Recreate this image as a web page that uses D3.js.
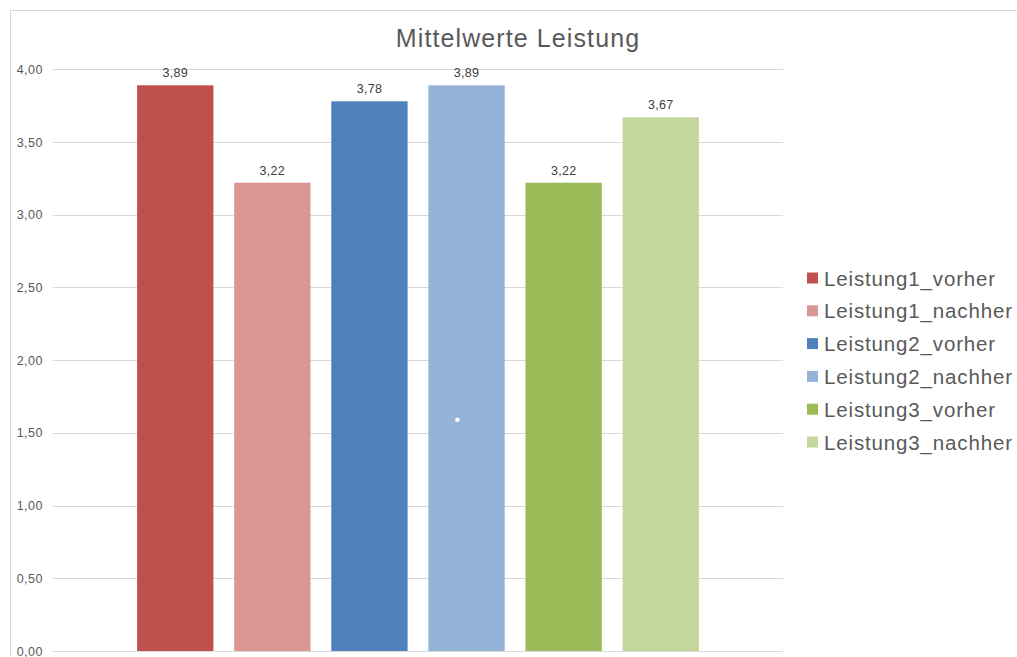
<!DOCTYPE html>
<html>
<head>
<meta charset="utf-8">
<script src="https://cdn.jsdelivr.net/npm/d3@7"></script>
<style>
  html, body { margin: 0; padding: 0; background: #ffffff; }
  svg { display: block; font-family: "Liberation Sans", Arial, sans-serif; }
</style>
</head>
<body>
<svg id="chart" width="1017" height="657"></svg>
<script>
// Mean performance per measurement, before and after
const seriesNames = [
  "Leistung1_vorher", "Leistung1_nachher",
  "Leistung2_vorher", "Leistung2_nachher",
  "Leistung3_vorher", "Leistung3_nachher"
];
const seriesValues = [3.89, 3.22, 3.78, 3.89, 3.22, 3.67];
const seriesColors = ["#C0504D", "#D99694", "#4F81BD", "#95B3D7", "#9BBB59", "#C3D69B"];
const yTicks = [0, 0.5, 1, 1.5, 2, 2.5, 3, 3.5, 4];
const chartTitle = "Mittelwerte Leistung";

const fmt = v => d3.format(".2f")(v).replace(".", ",");

const svg = d3.select("#chart");

// chart frame (left and top edges visible)
svg.append("line").attr("x1", 10.5).attr("x2", 10.5).attr("y1", 10).attr("y2", 657)
  .attr("stroke", "#d9d9d9").attr("stroke-width", 1);
svg.append("line").attr("x1", 10).attr("x2", 1017).attr("y1", 10.5).attr("y2", 10.5)
  .attr("stroke", "#d9d9d9").attr("stroke-width", 1);

const plot = { left: 53, right: 783, top: 69.3, bottom: 651 };

const x = d3.scaleBand()
  .domain(seriesNames)
  .range([plot.left, plot.right])
  .paddingInner(0.214)
  .paddingOuter(0.866);

const y = d3.scaleLinear()
  .domain([0, 4])
  .range([plot.bottom, plot.top]);

// gridlines
svg.append("g")
  .selectAll("line")
  .data(yTicks)
  .join("line")
  .attr("x1", plot.left).attr("x2", plot.right)
  .attr("y1", d => Math.round(y(d)) + 0.5).attr("y2", d => Math.round(y(d)) + 0.5)
  .attr("stroke", "#d9d9d9").attr("stroke-width", 1);

// y axis labels
const yAxis = d3.axisLeft(y).tickValues(yTicks).tickFormat(fmt).tickSize(0).tickPadding(10);
const yg = svg.append("g").attr("transform", `translate(${plot.left},0)`).call(yAxis);
yg.select(".domain").remove();
yg.selectAll("text")
  .attr("font-size", 12.5)
  .attr("letter-spacing", 0.5)
  .attr("font-family", "'Liberation Sans', Arial, sans-serif")
  .attr("fill", "#595959");

// bars
svg.append("g")
  .selectAll("rect")
  .data(seriesNames)
  .join("rect")
  .attr("x", d => x(d))
  .attr("width", x.bandwidth())
  .attr("y", (d, i) => y(seriesValues[i]))
  .attr("height", (d, i) => y(0) - y(seriesValues[i]))
  .attr("fill", (d, i) => seriesColors[i]);

// value labels
svg.append("g")
  .selectAll("text")
  .data(seriesNames)
  .join("text")
  .attr("x", d => x(d) + x.bandwidth() / 2)
  .attr("y", (d, i) => y(seriesValues[i]) - 8)
  .attr("text-anchor", "middle")
  .attr("font-size", 12.5)
  .attr("letter-spacing", 0.3)
  .attr("fill", "#404040")
  .text((d, i) => fmt(seriesValues[i]));

// small white marker on the fourth bar
svg.append("circle")
  .attr("cx", x(seriesNames[3]) + x.bandwidth() * 0.38)
  .attr("cy", y(1.59))
  .attr("r", 2.3)
  .attr("fill", "#ffffff");

// title
svg.append("text")
  .attr("x", 518)
  .attr("y", 47)
  .attr("text-anchor", "middle")
  .attr("font-size", 25)
  .attr("letter-spacing", 1.1)
  .attr("fill", "#595959")
  .text(chartTitle);

// legend
const legend = svg.append("g").attr("transform", "translate(807,278)");
const rows = legend.selectAll("g")
  .data(seriesNames)
  .join("g")
  .attr("transform", (d, i) => `translate(0,${i * 32.8})`);
rows.append("rect")
  .attr("x", 0).attr("y", -5.5)
  .attr("width", 11).attr("height", 11)
  .attr("fill", (d, i) => seriesColors[i]);
rows.append("text")
  .attr("x", 17)
  .attr("y", 7.5)
  .attr("font-size", 20.5)
  .attr("letter-spacing", 0.85)
  .attr("fill", "#595959")
  .text(d => d);
</script>
</body>
</html>
